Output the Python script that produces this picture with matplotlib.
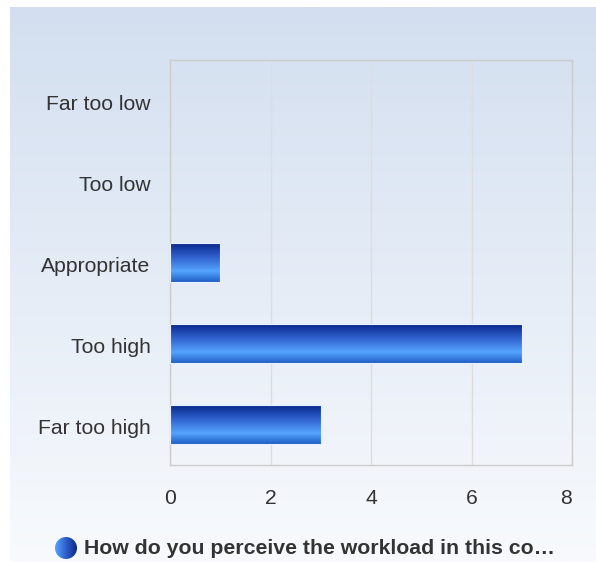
import numpy as np
import matplotlib
matplotlib.use("Agg")
import matplotlib.pyplot as plt
from matplotlib.colors import LinearSegmentedColormap
from matplotlib.patches import Circle
from matplotlib.transforms import ScaledTranslation

categories = ["Far too low", "Too low", "Appropriate", "Too high", "Far too high"]
values = [0, 0, 1, 7, 3]
xticks = [0, 2, 4, 6, 8]
series_name = "How do you perceive the workload in this co…"

plt.rcParams['font.family'] = ['Liberation Sans', 'DejaVu Sans']

W, H = 596, 562
fig = plt.figure(figsize=(W/100, H/100), dpi=100)
fig.patch.set_facecolor('white')

# background panel with vertical gradient
bg = fig.add_axes([10/W, 0, 586/W, (H-7)/H], zorder=0)
bg_cmap = LinearSegmentedColormap.from_list('bg', ['#d3dff0', '#f8fafd'])
bg.imshow(np.linspace(0, 1, 256).reshape(-1, 1), aspect='auto', cmap=bg_cmap,
          extent=[0, 1, 0, 1], origin='upper')
bg.set_axis_off()

# plot area
x0, x1, y0, y1 = 170, 572, 60, 465
ax = fig.add_axes([x0/W, 1 - y1/H, (x1-x0)/W, (y1-y0)/H], zorder=1)
ax.patch.set_alpha(0)
ypos = np.arange(len(categories))
ax.set_xlim(0, 8)
ax.set_ylim(len(categories) - 0.5, -0.5)
ax.set_xticks(xticks)
ax.set_xticklabels([str(t) for t in xticks])
ax.set_yticks(ypos)
ax.set_yticklabels(categories)
ax.tick_params(axis='both', length=0, labelsize=15.2, colors='#333333')
ax.tick_params(axis='y', pad=14)
ax.tick_params(axis='x', pad=17)
ax.grid(axis='x', color='#dddddd', linewidth=1)
ax.set_axisbelow(True)
for s in ax.spines.values():
    s.set_color('#cccccc')
    s.set_linewidth(1)
lastlab = ax.get_xticklabels()[-1]
lastlab.set_transform(lastlab.get_transform() + ScaledTranslation(-6/100, 0, fig.dpi_scale_trans))
for lab in ax.get_yticklabels():
    lab.set_transform(lab.get_transform() + ScaledTranslation(0, -2/100, fig.dpi_scale_trans))

bar_cmap = LinearSegmentedColormap.from_list(
    'bar', [(0.0, '#08288a'), (0.35, '#2f5fcc'), (0.72, '#55a4ff'), (1.0, '#1f5fc4')])
grad = np.linspace(0, 1, 256).reshape(-1, 1)
bars = ax.barh(ypos, values, height=0.47, color='none', edgecolor='none')
for b in bars:
    if b.get_width() <= 0:
        continue
    xb, yb, wb, hb = b.get_x(), b.get_y(), b.get_width(), b.get_height()
    im = ax.imshow(grad, aspect='auto', cmap=bar_cmap,
                   extent=[xb, xb + wb, yb + hb, yb], origin='upper', zorder=3)
    im.set_clip_path(b)
    b.set_edgecolor('#e8f0ff')
    b.set_linewidth(0.8)
    b.set_zorder(4)
ax.set_xlim(0, 8)
ax.set_ylim(len(categories) - 0.5, -0.5)

# legend
lg = fig.add_axes([0, 0, 1, 1], zorder=2)
lg.set_xlim(0, W)
lg.set_ylim(H, 0)
lg.set_axis_off()
lg.patch.set_alpha(0)
circ = Circle((66, 548), 11, transform=lg.transData, facecolor='none', edgecolor='none')
lg.add_patch(circ)
lcmap = LinearSegmentedColormap.from_list('lg', ['#55a4ff', '#2f5fcc', '#08288a'])
im = lg.imshow(np.linspace(0, 1, 256).reshape(1, -1), aspect='auto', cmap=lcmap,
               extent=[55, 77, 559, 537], zorder=3)
im.set_clip_path(circ)
lg.set_xlim(0, W)
lg.set_ylim(H, 0)
lg.text(84, 549, series_name, fontsize=15.3, fontweight='bold', color='#333333',
        va='center', ha='left')

fig.savefig('out.png', dpi=100)
